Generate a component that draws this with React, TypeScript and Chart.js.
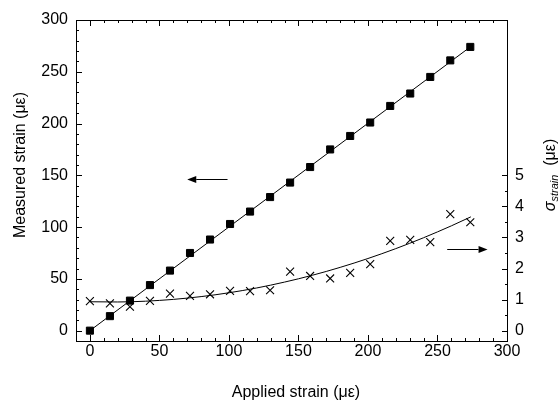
import React, { useEffect, useRef } from 'react';
import { Chart, registerables } from 'chart.js';

Chart.register(...registerables);

// ---- data ----
const appliedStrain = [0, 14.4, 28.8, 43.2, 57.6, 72.0, 86.4, 100.8, 115.2, 129.6, 144.0, 158.4, 172.8, 187.2, 201.6, 216.0, 230.4, 244.8, 259.2, 273.6];
const measuredStrain = [0, 14, 29, 44, 58, 75, 88, 103, 115, 129, 143, 158, 175, 188, 201, 217, 229, 245, 261, 274];
const sigmaStrain = [0.95, 0.88, 0.77, 0.96, 1.19, 1.12, 1.17, 1.28, 1.27, 1.30, 1.90, 1.76, 1.68, 1.86, 2.14, 2.89, 2.92, 2.85, 3.75, 3.49];

const linearFitX = [0, 273.6];
const linearFitY = [0, 274];

const curveFitX = [0, 20, 40, 60, 80, 100, 120, 140, 160, 180, 200, 220, 240, 260, 274];
const curveFitY = [0.93, 0.923, 0.948, 1.006, 1.096, 1.219, 1.374, 1.563, 1.783, 2.037, 2.322, 2.64, 2.991, 3.374, 3.663];

const xTicks = [0, 50, 100, 150, 200, 250, 300];
const yTicks = [0, 50, 100, 150, 200, 250, 300];
const y2Ticks = [0, 1, 2, 3, 4, 5];
const xRange = [-10, 300];
const yRange = [-10, 300];
const y2Range = [-10 / 30, 10];

// arrows: [tail, head] in data units
const leftArrowX = [99, 70];
const leftArrowY = 146;
const rightArrowX = [257, 286];
const rightArrowY2 = 2.63;

const FONT = '"Liberation Sans", Arial, sans-serif';

const decorPlugin = {
  id: 'decor',
  afterDraw(chart: any) {
    const ctx = chart.ctx;
    const { left, right, top, bottom } = chart.chartArea;
    const xs = chart.scales.x;
    const ys = chart.scales.y;
    const y2s = chart.scales.y2;
    ctx.save();
    ctx.strokeStyle = '#000';
    ctx.fillStyle = '#000';
    ctx.lineWidth = 1;
    // frame
    ctx.strokeRect(left + 0.5, top + 0.5, right - left, bottom - top);
    ctx.beginPath();
    // x ticks (bottom and top)
    for (let v = 0; v <= 300; v += 10) {
      const px = Math.round(xs.getPixelForValue(v)) + 0.5;
      const len = v % 50 === 0 ? 6 : 3;
      ctx.moveTo(px, bottom);
      ctx.lineTo(px, bottom - len);
      ctx.moveTo(px, top);
      ctx.lineTo(px, top + len);
    }
    // left y ticks
    for (let v = 0; v <= 300; v += 10) {
      const py = Math.round(ys.getPixelForValue(v)) + 0.5;
      const len = v % 50 === 0 ? 6 : 3;
      ctx.moveTo(left, py);
      ctx.lineTo(left + len, py);
    }
    // right y2 ticks
    for (let i = 0; i <= 10; i++) {
      const v = i / 2;
      const py = Math.round(y2s.getPixelForValue(v)) + 0.5;
      const len = i % 2 === 0 ? 6 : 3;
      ctx.moveTo(right + 1, py);
      ctx.lineTo(right + 1 - len, py);
    }
    ctx.stroke();

    // arrows
    const drawArrow = (x1: number, x2: number, y: number) => {
      const yy = Math.round(y) + 0.5;
      const dir = x2 > x1 ? 1 : -1;
      const headLen = 9;
      ctx.beginPath();
      ctx.moveTo(x1, yy);
      ctx.lineTo(x2 - dir * headLen, yy);
      ctx.stroke();
      ctx.beginPath();
      ctx.moveTo(x2, yy);
      ctx.lineTo(x2 - dir * headLen, yy - 3.5);
      ctx.lineTo(x2 - dir * headLen, yy + 3.5);
      ctx.closePath();
      ctx.fill();
    };
    drawArrow(xs.getPixelForValue(leftArrowX[0]), xs.getPixelForValue(leftArrowX[1]), ys.getPixelForValue(leftArrowY));
    drawArrow(xs.getPixelForValue(rightArrowX[0]), xs.getPixelForValue(rightArrowX[1]), y2s.getPixelForValue(rightArrowY2));

    // titles
    ctx.fillStyle = '#000';
    ctx.textBaseline = 'alphabetic';
    ctx.font = '16px ' + FONT;
    ctx.textAlign = 'center';
    ctx.fillText('Applied strain (με)', 296, 397);

    ctx.save();
    ctx.translate(25, 165);
    ctx.rotate(-Math.PI / 2);
    ctx.fillText('Measured strain (με)', 0, 0);
    ctx.restore();

    ctx.save();
    ctx.translate(555, 175);
    ctx.rotate(-Math.PI / 2);
    ctx.textAlign = 'left';
    const parts = [
      { t: 'σ', f: 'italic 16px ' + FONT, dy: 0 },
      { t: 'strain', f: 'italic 11px ' + FONT, dy: 3 },
      { t: '  (με)', f: '16px ' + FONT, dy: 0 },
    ];
    let total = 0;
    for (const p of parts) {
      ctx.font = p.f;
      total += ctx.measureText(p.t).width;
    }
    let x = -total / 2;
    for (const p of parts) {
      ctx.font = p.f;
      ctx.fillText(p.t, x, p.dy);
      x += ctx.measureText(p.t).width;
    }
    ctx.restore();

    ctx.restore();
  },
};

export default function App() {
  const ref = useRef<HTMLCanvasElement | null>(null);
  useEffect(() => {
    if (!ref.current) return;
    const tickFont = { family: FONT, size: 16 };
    const chart = new Chart(ref.current, {
      type: 'scatter',
      data: {
        datasets: [
          {
            data: linearFitX.map((x, i) => ({ x, y: linearFitY[i] })),
            showLine: true,
            borderColor: '#000',
            borderWidth: 1,
            pointRadius: 0,
            yAxisID: 'y',
          },
          {
            data: curveFitX.map((x, i) => ({ x, y: curveFitY[i] })),
            showLine: true,
            borderColor: '#000',
            borderWidth: 1,
            pointRadius: 0,
            cubicInterpolationMode: 'monotone',
            yAxisID: 'y2',
          },
          {
            data: appliedStrain.map((x, i) => ({ x, y: measuredStrain[i] })),
            pointStyle: 'rect',
            pointRadius: 5,
            backgroundColor: '#000',
            borderColor: '#000',
            borderWidth: 1,
            yAxisID: 'y',
          },
          {
            data: appliedStrain.map((x, i) => ({ x, y: sigmaStrain[i] })),
            pointStyle: 'crossRot',
            pointRadius: 5.6,
            borderColor: '#000',
            borderWidth: 1.1,
            yAxisID: 'y2',
          },
        ],
      } as any,
      options: {
        animation: false,
        responsive: false,
        devicePixelRatio: 1,
        layout: { padding: { top: 20, left: 0, right: 0, bottom: 0 } },
        plugins: { legend: { display: false }, tooltip: { enabled: false } },
        scales: {
          x: {
            type: 'linear',
            position: 'bottom',
            min: xRange[0],
            max: xRange[1],
            grid: { display: false, drawTicks: false },
            border: { display: false },
            ticks: { font: tickFont, color: '#000', padding: 1, autoSkip: false, maxRotation: 0 },
            afterBuildTicks: (s: any) => { s.ticks = xTicks.map((v) => ({ value: v })); },
            afterFit: (s: any) => { s.height = 62; },
          },
          y: {
            type: 'linear',
            position: 'left',
            min: yRange[0],
            max: yRange[1],
            grid: { display: false, drawTicks: false },
            border: { display: false },
            ticks: { font: tickFont, color: '#000', padding: 8, autoSkip: false },
            afterBuildTicks: (s: any) => { s.ticks = yTicks.map((v) => ({ value: v })); },
            afterFit: (s: any) => { s.width = 76; },
          },
          y2: {
            type: 'linear',
            position: 'right',
            min: y2Range[0],
            max: y2Range[1],
            grid: { display: false, drawTicks: false },
            border: { display: false },
            ticks: { font: tickFont, color: '#000', padding: 8, autoSkip: false },
            afterBuildTicks: (s: any) => { s.ticks = y2Ticks.map((v) => ({ value: v })); },
            afterFit: (s: any) => { s.width = 53; },
          },
        },
      } as any,
      plugins: [decorPlugin],
    });
    return () => chart.destroy();
  }, []);
  return (
    <div style={{ position: 'fixed', left: 0, top: 0, width: 560, height: 403, background: '#fff' }}>
      <canvas ref={ref} width={560} height={403} style={{ display: 'block' }} />
    </div>
  );
}
